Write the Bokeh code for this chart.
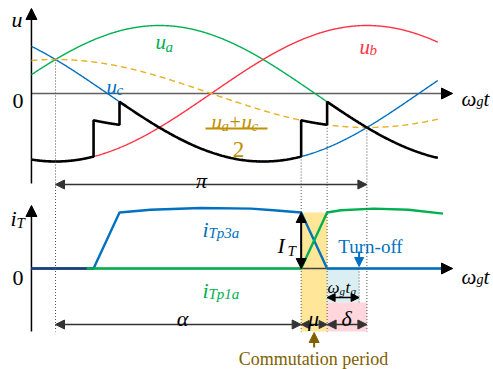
import numpy as np
from bokeh.plotting import figure
from bokeh.models import Range1d, Label, Arrow, NormalHead
from bokeh.embed import file_html
from bokeh.resources import INLINE

# ---------------- data ----------------
# electrical angles (degrees of ω_g t); 0 = natural commutation point (u_a = u_c)
alpha_deg = 142.0      # firing angle α
mu_deg = 15.0          # commutation (overlap) angle μ
delta_deg = 23.0       # extinction angle δ
tq_deg = 18.5          # ω_g t_q
theta_start = -13.9
theta_end = 221.0

# phase voltages u = cos(θ - shift), per unit
phase_names = ["u_a", "u_b", "u_c"]
phase_shift_deg = [60.0, 180.0, -60.0]

# thyristor currents (per unit of I_T)
i_tp3a_deg = [-13.9, 22.0, 37.0, 55.0, 84.0, 113.0, 126.0, 142.0, 157.0, 228.0]
i_tp3a_val = [0.0, 0.0, 1.0, 1.05, 1.08, 1.07, 1.04, 1.0, 0.0, 0.0]
i_tp1a_deg = [18.0, 142.0, 157.0, 165.0, 184.0, 204.0, 224.0]
i_tp1a_val = [0.0, 0.0, 1.0, 1.04, 1.07, 1.05, 0.98]

# ---------------- layout ----------------
W, H = 493, 369
PX_PER_DEG = 1.73
X0 = 55                 # screen x of 0 deg
U_PX, U0 = 68, 93       # top panel: px per unit, zero line from top
I_PX, I0 = 56, 268      # bottom panel
FONT = "Liberation Serif"
GREEN, RED, BLUE = "#00B050", "#FF3344", "#0070C0"
GOLD, DASH, BROWN = "#BF9000", "#E8B020", "#7F6000"

p = figure(width=W, height=H, output_backend="svg", toolbar_location=None,
           x_range=Range1d(-X0 / PX_PER_DEG, (W - X0) / PX_PER_DEG),
           y_range=Range1d(-(H - U0) / U_PX, U0 / U_PX),
           x_axis_location=None, y_axis_location=None,
           min_border=0, min_border_left=0, min_border_right=0,
           min_border_top=0, min_border_bottom=0)
p.extra_y_ranges = {"i": Range1d(-(H - I0) / I_PX, I0 / I_PX)}
p.xgrid.visible = False
p.ygrid.visible = False
p.outline_line_color = None
p.background_fill_color = "white"
p.border_fill_color = "white"


def dx(ix):  # picture px -> degrees
    return (ix - X0) / PX_PER_DEG


def du(iy):
    return (U0 - iy) / U_PX


def di(iy):
    return (I0 - iy) / I_PX


def lab(ix, iy, text, size, color="black", italic=True, align="left"):
    p.add_layout(Label(x=ix, y=H - iy, x_units="screen", y_units="screen",
                       text=text, text_font=FONT, text_font_size=f"{size}px",
                       text_font_style="italic" if italic else "normal",
                       text_color=color, text_align=align, text_baseline="alphabetic"))


def head(color="black", size=9):
    return NormalHead(size=size, fill_color=color, line_color=color, line_width=1)


def arrow(x0, y0, x1, y1, color="black", both=False, rng=None, lw=1.3, size=9, shaft=True):
    kw = dict(x_start=x0, y_start=y0, x_end=x1, y_end=y1, line_color=color,
              line_width=lw, end=head(color, size), start=head(color, size) if both else None)
    if not shaft:
        kw["line_alpha"] = 0
    if rng:
        kw["y_range_name"] = rng
    p.add_layout(Arrow(**kw))


# ---------------- shaded regions (bottom panel) ----------------
a, am, a_end = alpha_deg, alpha_deg + mu_deg, alpha_deg + mu_deg + delta_deg
row_split, row_bottom = -0.607, -1.125
p.quad(left=a, right=am, top=1.0, bottom=row_bottom, fill_color="#FFE699",
       line_color=None, y_range_name="i")
p.quad(left=am, right=am + tq_deg, top=0, bottom=row_split, fill_color="#DAEEF3",
       line_color=None, y_range_name="i")
p.quad(left=am, right=a_end, top=row_split, bottom=row_bottom, fill_color="#FFD6DB",
       line_color=None, y_range_name="i")

# ---------------- axes ----------------
ax_x = theta_start
x_axis_end = dx(452)
p.segment(x0=[ax_x], y0=[0], x1=[x_axis_end], y1=[0], line_color="#606060", line_width=1.5)
p.segment(x0=[ax_x], y0=[0], x1=[x_axis_end], y1=[0], line_color="#404040", line_width=1.5,
          y_range_name="i")
p.segment(x0=[ax_x], y0=[du(183)], x1=[ax_x], y1=[du(9)], line_color="black", line_width=1.5)
p.segment(x0=[ax_x], y0=[di(331)], x1=[ax_x], y1=[di(206)], line_color="black", line_width=1.5,
          y_range_name="i")
arrow(x_axis_end - 3, 0, x_axis_end, 0, size=11, shaft=False)
arrow(x_axis_end - 3, 0, x_axis_end, 0, size=11, shaft=False, rng="i")
arrow(ax_x, du(20), ax_x, du(8), size=11, shaft=False)
arrow(ax_x, di(218), ax_x, di(205), size=11, shaft=False, rng="i")

# ---------------- voltages ----------------
theta = np.linspace(theta_start, theta_end, 600)


def u(k, th):
    return np.cos(np.radians(np.asarray(th) - phase_shift_deg[k]))


p.line(theta, u(0, theta), line_color=GREEN, line_width=1.4)
p.line(theta, u(1, theta), line_color=RED, line_width=1.4)
p.line(theta, u(2, theta), line_color=BLUE, line_width=1.4)
p.line(theta, (u(0, theta) + u(2, theta)) / 2, line_color=DASH, line_width=1.4, line_dash="6 4")

# converter voltage with commutation notches
bounds = [theta_start, alpha_deg - 120, alpha_deg - 120 + mu_deg, alpha_deg, alpha_deg + mu_deg, theta_end]
funcs = [lambda t: u(1, t), lambda t: (u(1, t) + u(2, t)) / 2, lambda t: u(2, t),
         lambda t: (u(2, t) + u(0, t)) / 2, lambda t: u(0, t)]
bx, by = [], []
for j, f in enumerate(funcs):
    t = np.linspace(bounds[j], bounds[j + 1], 120)
    bx.extend(t)
    by.extend(f(t))
p.line(bx, by, line_color="black", line_width=2.6)

# ---------------- currents ----------------
p.line(i_tp3a_deg, i_tp3a_val, line_color=BLUE, line_width=2.4, y_range_name="i")
# overlap of the idle blue trace with the axis looks dark navy in the reference
p.line(i_tp3a_deg[:2], i_tp3a_val[:2], line_color="#1F3F7A", line_width=2.4, y_range_name="i")
p.line(i_tp1a_deg, i_tp1a_val, line_color=GREEN, line_width=2.4, y_range_name="i")

# ---------------- dotted guides ----------------
u_break, i_break = du(186.5), di(186.5)
top_starts = [(0.0, float((u(0, 0) + u(2, 0)) / 2)),
              (a, float(u(2, a))),
              (am, float((u(2, am) + u(0, am)) / 2)),
              (a_end, float((u(0, a_end) + u(2, a_end)) / 2))]
for xv, yv in top_starts:
    p.segment(x0=[xv], y0=[yv], x1=[xv], y1=[u_break], line_color="#555555",
              line_width=1, line_dash="1 2")
    p.segment(x0=[xv], y0=[i_break], x1=[xv], y1=[row_bottom], line_color="#555555",
              line_width=1, line_dash="1 2", y_range_name="i")
p.segment(x0=[am + tq_deg], y0=[0], x1=[am + tq_deg], y1=[row_split], line_color="#555555",
          line_width=1, line_dash="1 2", y_range_name="i")

# ---------------- dimension arrows ----------------
arrow(0, du(184), a_end, du(184), both=True, lw=1.4, color="#333333")
row = di(324)
arrow(0, row, a, row, both=True, color="#333333", rng="i")
arrow(a, row, am, row, both=True, color="#333333", size=8, rng="i")
arrow(am, row, a_end, row, both=True, color="#333333", rng="i")
arrow(am, di(297), am + tq_deg, di(297), both=True, color="black", size=8, rng="i")
arrow(a, 0, a, 1.0, both=True, rng="i", lw=2, size=10)
arrow(am + tq_deg, di(251), am + tq_deg, di(266), color=BLUE, rng="i", lw=2, size=9)
arrow(a + mu_deg / 2, di(347), a + mu_deg / 2, di(332), color=BROWN, rng="i", lw=2, size=10)

# fraction bar
p.segment(x0=[dx(205)], y0=[du(128)], x1=[dx(267)], y1=[du(128)], line_color=GOLD, line_width=2)

# ---------------- texts ----------------
lab(11, 19, "u", 22)
lab(10, 218, "i", 22)
lab(16, 222, "T", 15)
lab(23, 100, "0", 22, italic=False, align="right")
lab(23, 277, "0", 22, italic=False, align="right")
for base in (98, 276):
    lab(461, base, "ω", 21)
    lab(476, base + 3, "g", 14)
    lab(483, base, "t", 21)

lab(155, 41, "u", 21, GREEN)
lab(165, 46, "a", 15, GREEN)
lab(359, 46, "u", 21, RED)
lab(369, 49, "b", 15, RED)
lab(106, 86, "u", 21, BLUE)
lab(116, 89, "c", 15, BLUE)

lab(211, 121, "u", 21, GOLD)
lab(221, 125, "a", 15, GOLD)
lab(229, 121, "+", 20, GOLD, italic=False)
lab(241, 121, "u", 21, GOLD)
lab(251, 125, "c", 15, GOLD)
lab(238, 149, "2", 23, GOLD, italic=False, align="center")

lab(201, 180, "π", 22, align="center")
lab(182, 318, "α", 22, align="center")
lab(313, 318, "μ", 22, align="center")
lab(346, 318, "δ", 22, align="center")
lab(327, 287, "ω", 17)
lab(339, 290, "g", 11)
lab(345, 287, "t", 17)
lab(350, 290, "q", 11)
lab(277, 245, "I", 22)
lab(287, 250, "T", 15)

lab(202, 229, "i", 22, BLUE)
lab(208, 232, "Tp3a", 15, BLUE)
lab(202, 290, "i", 22, GREEN)
lab(208, 293, "Tp1a", 15, GREEN)

lab(370, 246, "Turn-off", 19, BLUE, italic=False, align="center")
lab(313, 358, "Commutation period", 18, BROWN, italic=False, align="center")

open("out.html", "w").write(file_html(p, INLINE))
